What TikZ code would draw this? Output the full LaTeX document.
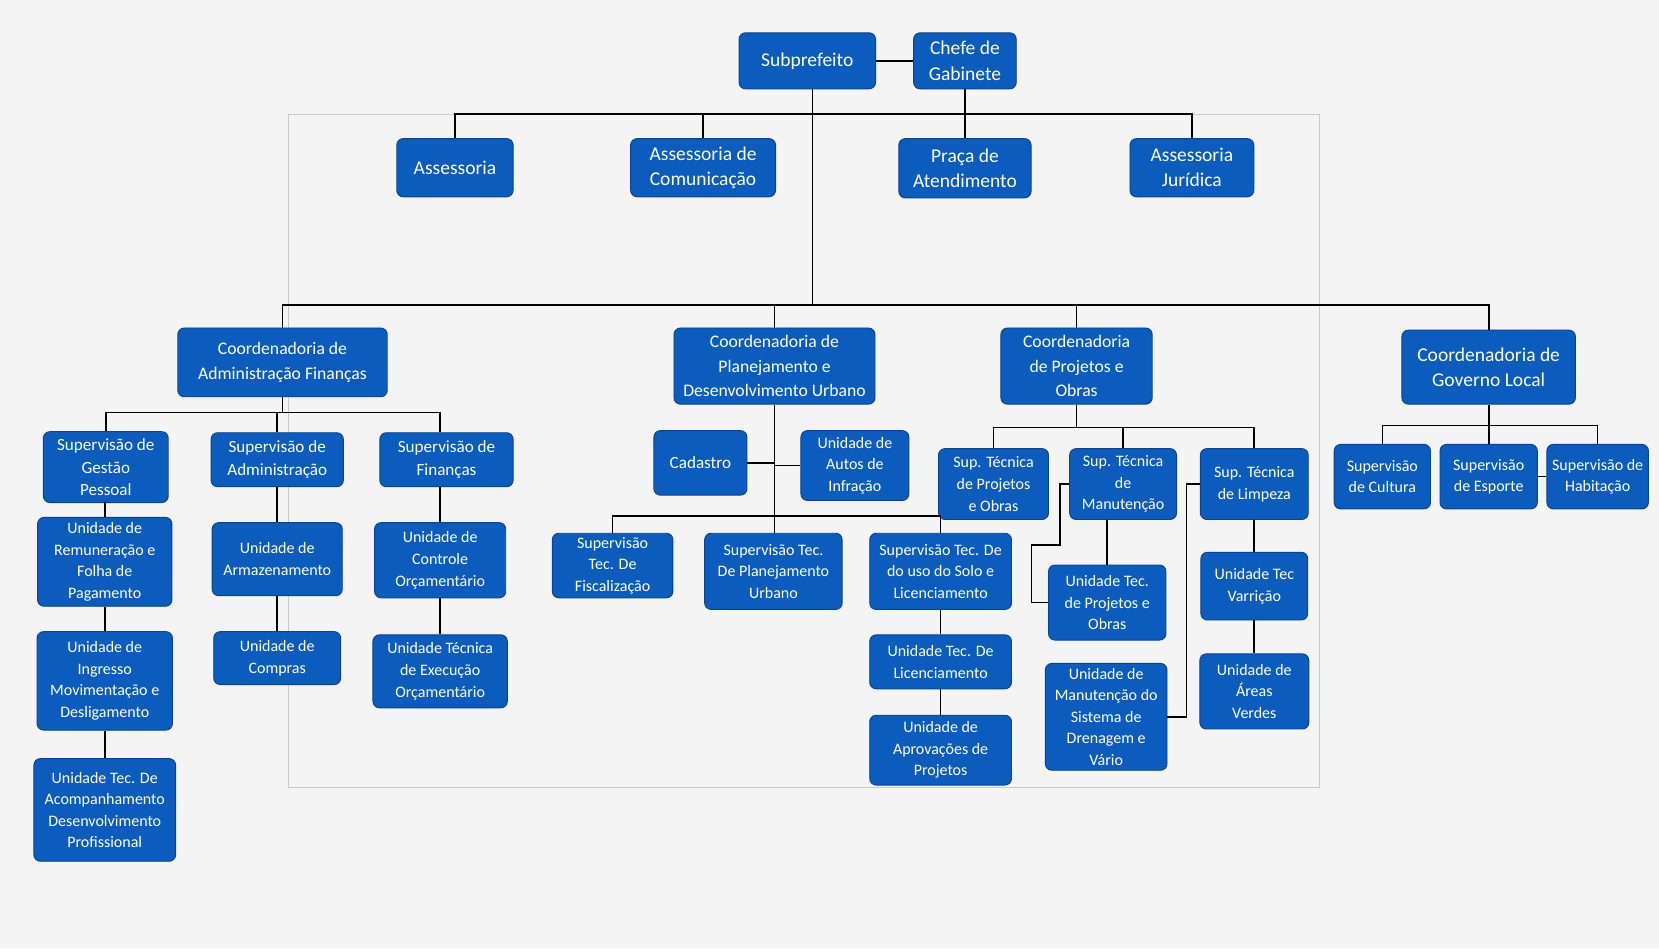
\documentclass[tikz,border=0pt]{standalone}
\usepackage{fontspec}
\setmainfont{Carlito}
\definecolor{boxblue}{RGB}{12,92,190}
\definecolor{boxedge}{RGB}{8,66,145}
\definecolor{paper}{RGB}{244,244,244}
\definecolor{frame}{RGB}{200,200,200}
\tikzset{
  unit/.style={draw=boxedge, line width=0.5pt, fill=boxblue, rounded corners=3.5pt,
    text=white, align=center, inner sep=1pt},
  sz/.style 2 args={minimum width=#1*0.02cm, minimum height=#2*0.02cm},
  topfont/.style={font=\fontsize{10.5}{13.6}\selectfont},
  coordfont/.style={font=\fontsize{9.5}{13}\selectfont},
  supfont/.style={font=\fontsize{9.2}{12.3}\selectfont},
  smallfont/.style={font=\fontsize{8.6}{11.6}\selectfont},
  link/.style={draw=black, line width=0.9pt},
}
\begin{document}
\begin{tikzpicture}[x=0.02cm, y=-0.02cm]
  \fill[paper] (0,0) rectangle (1568,896);
  \useasboundingbox (0,0) rectangle (1568,896);
  \draw[frame, line width=0.6pt] (273,108) rectangle (1247,744);
  % top
  \node[unit, topfont, sz={129}{53}] (sub) at (763,57.5) {Subprefeito};
  \node[unit, topfont, sz={97}{53}] (chefe) at (912,57.5) {Chefe de\\Gabinete};
  \node[unit, topfont, sz={110}{55}] (ass) at (430,158.5) {Assessoria};
  \node[unit, topfont, sz={137}{55}] (com) at (664.5,158.5) {Assessoria de\\Comunicação};
  \node[unit, topfont, sz={125}{56}] (praca) at (912,159) {Praça de\\Atendimento};
  \node[unit, topfont, sz={117}{55}] (jur) at (1126.5,158.5) {Assessoria\\Jurídica};
  % coordenadorias
  \node[unit, coordfont, sz={198}{65}] (caf) at (267,342.5) {Coordenadoria de\\Administração Finanças};
  \node[unit, coordfont, sz={190}{72}] (cpd) at (732,346) {Coordenadoria de\\Planejamento e\\Desenvolvimento Urbano};
  \node[unit, coordfont, sz={143}{72}] (cpo) at (1017.5,346) {Coordenadoria\\de Projetos e\\Obras};
  \node[unit, topfont, sz={164}{70}] (cgl) at (1407,347) {Coordenadoria de\\Governo Local};
  % administracao e financas
  \node[unit, supfont, sz={118}{67}] (sgp) at (100,441.5) {Supervisão de\\Gestão\\Pessoal};
  \node[unit, supfont, sz={125}{51}] (sad) at (262,434.5) {Supervisão de\\Administração};
  \node[unit, supfont, sz={126}{51}] (sfi) at (422,434.5) {Supervisão de\\Finanças};
  \node[unit, smallfont, sz={127}{84}] (urf) at (99,531) {Unidade de\\Remuneração e\\Folha de\\Pagamento};
  \node[unit, smallfont, sz={128}{93}] (uim) at (99,643.5) {Unidade de\\Ingresso\\Movimentação e\\Desligamento};
  \node[unit, smallfont, sz={134}{97}] (uac) at (99,765.5) {Unidade Tec. De\\Acompanhamento\\Desenvolvimento\\Profissional};
  \node[unit, smallfont, sz={123}{69}] (uarm) at (262,528.5) {Unidade de\\Armazenamento};
  \node[unit, smallfont, sz={120}{50}] (ucom) at (262,622) {Unidade de\\Compras};
  \node[unit, smallfont, sz={124}{71}] (ucon) at (416,529.5) {Unidade de\\Controle\\Orçamentário};
  \node[unit, smallfont, sz={127}{69}] (uexe) at (416,634.5) {Unidade Técnica\\de Execução\\Orçamentário};
  % planejamento
  \node[unit, supfont, sz={88}{61}] (cad) at (662,437.5) {Cadastro};
  \node[unit, smallfont, sz={102}{66}] (aut) at (808,440) {Unidade de\\Autos de\\Infração};
  \node[unit, smallfont, sz={114}{61}] (sfz) at (579,534.5) {Supervisão\\Tec. De\\Fiscalização};
  \node[unit, smallfont, sz={130}{72}] (spu) at (731,540) {Supervisão Tec.\\De Planejamento\\Urbano};
  \node[unit, smallfont, sz={134}{72}] (sus) at (889,540) {Supervisão Tec. De\\do uso do Solo e\\Licenciamento};
  \node[unit, smallfont, sz={134}{51}] (ulc) at (889,625.5) {Unidade Tec. De\\Licenciamento};
  \node[unit, smallfont, sz={134}{66}] (uap) at (889,709) {Unidade de\\Aprovações de\\Projetos};
  % projetos e obras
  \node[unit, smallfont, sz={104}{67}] (stp) at (939,457.5) {Sup. Técnica\\de Projetos\\e Obras};
  \node[unit, smallfont, sz={101}{67}] (stm) at (1061.5,457.5) {Sup. Técnica\\de\\Manutenção};
  \node[unit, smallfont, sz={102}{67}] (stl) at (1185.5,457.5) {Sup. Técnica\\de Limpeza};
  \node[unit, smallfont, sz={111}{71}] (utp) at (1046.5,569.5) {Unidade Tec.\\de Projetos e\\Obras};
  \node[unit, smallfont, sz={115}{101}] (udr) at (1045.5,677.5) {Unidade de\\Manutenção do\\Sistema de\\Drenagem e\\Vário};
  \node[unit, smallfont, sz={101}{64}] (uva) at (1185.5,554) {Unidade Tec\\Varrição};
  \node[unit, smallfont, sz={103}{71}] (uav) at (1185.5,653.5) {Unidade de\\Áreas\\Verdes};
  % governo local
  \node[unit, smallfont, sz={91}{61}] (scu) at (1306.5,450.5) {Supervisão\\de Cultura};
  \node[unit, smallfont, sz={92}{61}] (sesp) at (1407,450.5) {Supervisão\\de Esporte};
  \node[unit, smallfont, sz={96}{61}] (sha) at (1510,450.5) {Supervisão de\\Habitação};
  % bus heights
  \coordinate (btop) at (0,108);
  \coordinate (bmid) at (0,288);
  \coordinate (baf) at (0,390);
  \coordinate (bpd) at (0,488);
  \coordinate (bpo) at (0,404);
  \coordinate (bgl) at (0,402);
  \begin{scope}[link]
    \draw (sub.east) -- (chefe.west);
    \draw (ass.north) -- (ass.north |- btop) -| (jur.north);
    \draw (com.north) -- (com.north |- btop);
    \draw (chefe.south) -- (praca.north);
    \draw ([xshift=0.1cm]sub.south) -- ([xshift=0.1cm]sub.south |- bmid);
    \draw (caf.north) -- (caf.north |- bmid) -| (cgl.north);
    \draw (cpd.north) -- (cpd.north |- bmid);
    \draw (cpo.north) -- (cpo.north |- bmid);
    % administracao e financas
    \draw (caf.south) -- (caf.south |- baf);
    \draw (sgp.north) -- (sgp.north |- baf) -| (ucon.north |- sfi.north);
    \draw (sad.north) -- (sad.north |- baf);
    \draw (sgp.south) -- (sgp.south -| urf.north) -- (urf.north);
    \draw (urf.south) -- (uim.north);
    \draw (uim.south) -- (uac.north);
    \draw (sad.south) -- (uarm.north);
    \draw (uarm.south) -- (ucom.north);
    \draw (ucon.north |- sfi.south) -- (ucon.north);
    \draw (ucon.south) -- (uexe.north);
    % planejamento
    \draw (cpd.south) -- (cpd.south |- spu.north);
    \draw (cad.east) -- (cad.east -| cpd.south);
    \draw (aut.west) -- (aut.west -| cpd.south);
    \draw (sfz.north) -- (sfz.north |- bpd) -| (sus.north);
    \draw (sus.south) -- (ulc.north);
    \draw (ulc.south) -- (uap.north);
    % projetos e obras
    \draw (cpo.south) -- (cpo.south |- bpo);
    \draw (stp.north) -- (stp.north |- bpo) -| (stl.north);
    \draw (stm.north) -- (stm.north |- bpo);
    \draw (utp.north |- stm.south) -- (utp.north);
    \draw (stm.west) -- ++(-9,0) |- (975,515) |- (utp.west);
    \draw (udr.east) -- ++(18,0) |- (stl.west);
    \draw (stl.south) -- (uva.north);
    \draw (uva.south) -- (uav.north);
    % governo local
    \draw (cgl.south) -- (sesp.north);
    \draw (scu.north) -- (scu.north |- bgl) -| (sha.north);
    \draw (sesp.east) -- (sha.west);
  \end{scope}
\end{tikzpicture}
\end{document}
